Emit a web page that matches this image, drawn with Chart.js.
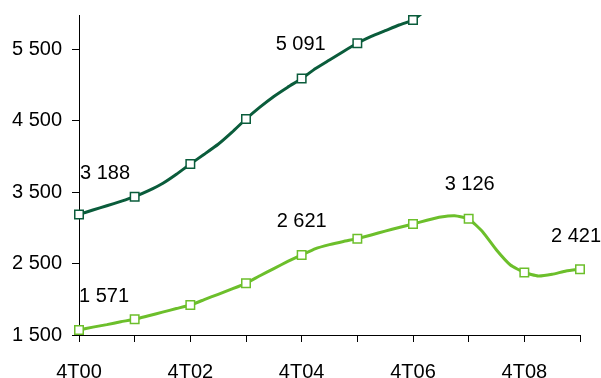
<!DOCTYPE html>
<html>
<head>
<meta charset="utf-8">
<script src="https://cdn.jsdelivr.net/npm/chart.js@4/dist/chart.umd.min.js"></script>
<style>
  html, body { margin: 0; padding: 0; background: #fff; }
  #wrap { width: 601px; height: 378px; }
</style>
</head>
<body>
<div id="wrap"><canvas id="c" width="601" height="378"></canvas></div>
<script>
// Quarterly periods (quarter + "T" + two-digit year)
const quarters = ['4T00','1T01','2T01','3T01','4T01','1T02','2T02','3T02','4T02','1T03','2T03','3T03','4T03',
  '1T04','2T04','3T04','4T04','1T05','2T05','3T05','4T05','1T06','2T06','3T06','4T06',
  '1T07','2T07','3T07','4T07','1T08','2T08','3T08','4T08','1T09','2T09','3T09','4T09'];

// Upper series (runs off the top of the scale after 4T06)
const seriesDark = [3188,3250,3310,3370,3436, 3520,3620,3750,3894, 4030,4170,4340,4524,
  4690,4840,4970,5091, 5230,5350,5470,5584, 5680,5760,5840,5910,
  6060,null,null,null,null,null,null,null,null,null,null,null];

// Lower series
const seriesLight = [1571,1610,1645,1685,1720, 1770,1820,1870,1920, 1995,2070,2145,2224,
  2330,2430,2530,2621, 2710,2765,2810,2849, 2900,2955,3005,3054,
  3106,3152,3170,3126, 2946,2690,2480,2375, 2326,2350,2396,2421];

// Periods whose values are written on the chart
const labelledDark = ['4T00','4T04'];
const labelledLight = ['4T00','4T04','4T07','4T09'];

// Axis ticks
const yTicks = [1500,2500,3500,4500,5500];
const xTickLabels = {'4T00':'4T00','4T02':'4T02','4T04':'4T04','4T06':'4T06','4T08':'4T08'};

const FONT = "'Liberation Sans', Arial, sans-serif";
const DARK = '#0a5c3b';
const LIGHT = '#6cbf2b';

function fmt(v) {
  return String(Math.round(v)).replace(/\B(?=(\d{3})+(?!\d))/g, ' ');
}

// Markers only on the fourth quarter of each year
const markerRadius = quarters.map(q => q.startsWith('4T') ? 6 : 0);

// Per-label nudges (dx, dy from the point), keyed by series and period
const nudges = {
  'dark:4T00': [26, -41],
  'dark:4T04': [-1, -34],
  'light:4T00': [25, -33],
  'light:4T04': [0, -33],
  'light:4T07': [1, -34],
  'light:4T09': [-4, -33]
};

const valueLabels = {
  id: 'valueLabels',
  afterDatasetsDraw(chart) {
    const ctx = chart.ctx;
    const xs = chart.scales.x, ys = chart.scales.y;
    ctx.save();
    ctx.font = '20px ' + FONT;
    ctx.fillStyle = '#000';
    ctx.textAlign = 'center';
    ctx.textBaseline = 'middle';
    const draw = (key, data, periods) => {
      periods.forEach(p => {
        const i = quarters.indexOf(p);
        const v = data[i];
        const n = nudges[key + ':' + p] || [0, -33];
        ctx.fillText(fmt(v), xs.getPixelForValue(i) + n[0], ys.getPixelForValue(v) + n[1]);
      });
    };
    draw('dark', seriesDark, labelledDark);
    draw('light', seriesLight, labelledLight);
    ctx.restore();
  }
};

const axisCommon = {
  border: { display: true, color: '#000', width: 1 },
  grid: { display: true, drawOnChartArea: false, drawTicks: true, tickLength: 7, tickColor: '#000', tickWidth: 1 },
  ticks: { color: '#000', font: { family: FONT, size: 20 } }
};

new Chart(document.getElementById('c'), {
  type: 'line',
  data: {
    labels: quarters,
    datasets: [
      {
        data: seriesDark,
        borderColor: DARK,
        borderWidth: 3,
        tension: 0.15,
        pointStyle: 'rect',
        pointRadius: markerRadius,
        pointBackgroundColor: '#fff',
        pointBorderColor: DARK,
        pointBorderWidth: 1.5,
        clip: { left: 10, right: 10, top: 0, bottom: 10 }
      },
      {
        data: seriesLight,
        borderColor: LIGHT,
        borderWidth: 3,
        tension: 0.15,
        pointStyle: 'rect',
        pointRadius: markerRadius,
        pointBackgroundColor: '#fff',
        pointBorderColor: LIGHT,
        pointBorderWidth: 1.5,
        clip: { left: 10, right: 10, top: 0, bottom: 10 }
      }
    ]
  },
  options: {
    responsive: false,
    animation: false,
    events: [],
    layout: { padding: { top: 15, right: 21, left: 0, bottom: 0 } },
    plugins: { legend: { display: false }, tooltip: { enabled: false }, title: { display: false } },
    scales: {
      x: {
        type: 'category',
        offset: false,
        border: axisCommon.border,
        grid: axisCommon.grid,
        ticks: Object.assign({}, axisCommon.ticks, {
          autoSkip: false, maxRotation: 0, padding: 18,
          callback: function (value) { return xTickLabels[quarters[value]] || ''; }
        }),
        afterBuildTicks(scale) {
          scale.ticks = scale.ticks.filter(t => quarters[t.value].startsWith('4T'));
        },
        afterFit(scale) {
          scale.height = 43;
          scale.paddingLeft = 0;
          scale.paddingRight = 0;
        }
      },
      y: {
        type: 'linear',
        min: 1500,
        max: 5980,
        border: axisCommon.border,
        grid: axisCommon.grid,
        ticks: Object.assign({}, axisCommon.ticks, {
          padding: 10,
          callback: v => fmt(v)
        }),
        afterBuildTicks(scale) {
          scale.ticks = yTicks.map(v => ({ value: v }));
        },
        afterFit(scale) {
          scale.width = 79;
          scale.paddingTop = 0;
          scale.paddingBottom = 0;
        }
      }
    }
  },
  plugins: [valueLabels]
});
</script>
</body>
</html>
